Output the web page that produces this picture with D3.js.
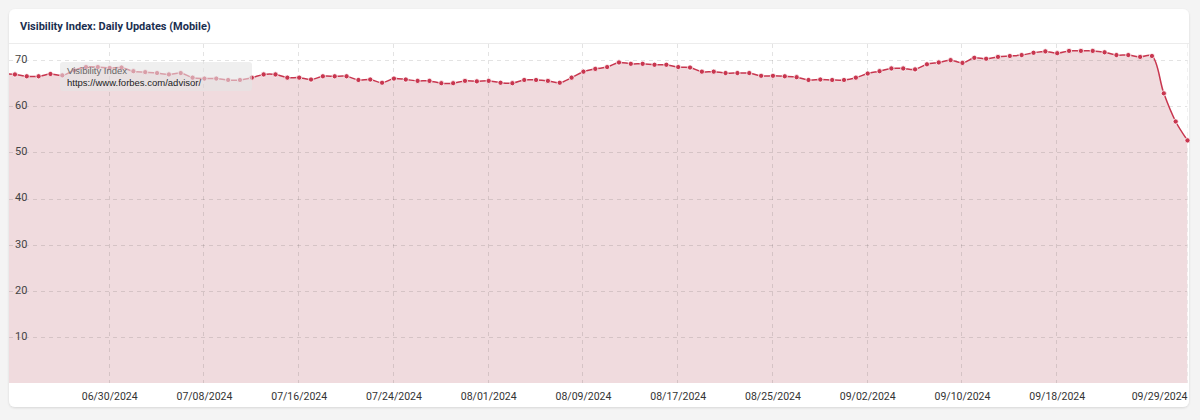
<!DOCTYPE html>
<html lang="en">

<head>
    <meta charset="UTF-8">
    <title>Visibility Index: Daily Updates (Mobile)</title>
    <style>
        * {
            margin: 0;
            padding: 0;
        }

        html,
        body {
            overflow: hidden;
            background-color: #f4f4f4;
        }
    </style>
</head>

<body>
    <div id="chart"></div>
    <script src="https://cdn.jsdelivr.net/npm/d3@7"></script>
    <script>
        // first day of the series (partly hidden behind the left edge)
        const startDate = '06/21/2024'

        // daily visibility index values, 06/21/2024 .. 09/29/2024
        const values = [
            67.1,
            66.9, 66.5, 66.5, 67.0, 66.7, 67.8, 68.5, 68.5, 68.3, 68.4,
            67.6, 67.4, 67.2, 66.9, 67.2, 66.2, 66.0, 66.0, 65.7, 65.7,
            66.2, 66.9, 66.9, 66.2, 66.2, 65.8, 66.5, 66.5, 66.5, 65.7,
            65.8, 65.1, 66.0, 65.8, 65.5, 65.5, 65.0, 65.0, 65.5, 65.4,
            65.5, 65.1, 65.0, 65.7, 65.7, 65.5, 65.1, 66.2, 67.5, 68.1,
            68.5, 69.5, 69.2, 69.2, 69.0, 69.0, 68.5, 68.4, 67.5, 67.5,
            67.2, 67.2, 67.2, 66.6, 66.6, 66.5, 66.3, 65.7, 65.8, 65.7,
            65.7, 66.2, 67.1, 67.6, 68.2, 68.2, 68.0, 69.1, 69.5, 70.0,
            69.4, 70.5, 70.3, 70.7, 70.9, 71.1, 71.6, 71.9, 71.5, 72.0,
            72.0, 72.0, 71.7, 71.1, 71.1, 70.7, 70.9, 62.8, 56.7, 52.6
        ]

        const xTickLabels = ['06/30/2024', '07/08/2024', '07/16/2024', '07/24/2024', '08/01/2024', '08/09/2024',
            '08/17/2024', '08/25/2024', '09/02/2024', '09/10/2024', '09/18/2024', '09/29/2024']
        const yTicks = [10, 20, 30, 40, 50, 60, 70]

        const title = 'Visibility Index: Daily Updates (Mobile)'
        const legendName = 'Visibility Index'
        const legendUrl = 'https://www.forbes.com/advisor/'

        function drawChart() {
            const width = 1200
            const height = 420
            const parse = d3.timeParse('%m/%d/%Y')
            const start = parse(startDate)

            const data = values.map((v, i) => ({ date: d3.timeDay.offset(start, i), value: v }))

            const lineColor = '#c8364f'
            const fillColor = 'rgba(175, 65, 80, 0.19)'
            const gridColor = 'rgba(0, 0, 0, 0.11)'

            const plot = { left: 9, right: 1187.5, top: 44, bottom: 383 }

            const svg = d3.select('#chart')
                .append('svg')
                .attr('width', width)
                .attr('height', height)
                .style('font-family', 'Roboto, sans-serif')

            const defs = svg.append('defs')
            defs.append('filter')
                .attr('id', 'shadow')
                .attr('x', '-5%').attr('y', '-5%')
                .attr('width', '110%').attr('height', '110%')
                .append('feDropShadow')
                .attr('dx', 0).attr('dy', 1)
                .attr('stdDeviation', 1.2)
                .attr('flood-color', '#000')
                .attr('flood-opacity', 0.12)

            defs.append('clipPath')
                .attr('id', 'plot-clip')
                .append('rect')
                .attr('x', plot.left)
                .attr('y', plot.top)
                .attr('width', plot.right - plot.left)
                .attr('height', plot.bottom - plot.top)

            // card
            svg.append('rect')
                .attr('x', 9)
                .attr('y', 9)
                .attr('width', 1180)
                .attr('height', 398)
                .attr('rx', 6)
                .attr('fill', '#fff')
                .attr('filter', 'url(#shadow)')

            svg.append('text')
                .attr('x', 20)
                .attr('y', 30)
                .text(title)
                .attr('fill', '#1b2f50')
                .style('font-size', '11px')
                .style('font-weight', 700)

            svg.append('line')
                .attr('x1', 9)
                .attr('x2', 1189)
                .attr('y1', 43.5)
                .attr('y2', 43.5)
                .attr('stroke', '#ececec')

            const x = d3.scaleTime()
                .domain([d3.timeHour.offset(start, 12), parse(xTickLabels[xTickLabels.length - 1])])
                .range([plot.left, plot.right])

            const y = d3.scaleLinear()
                .domain([0, 73.5])
                .range([plot.bottom, plot.top])

            const chart = svg.append('g')
                .attr('clip-path', 'url(#plot-clip)')

            const area = d3.area()
                .x(d => x(d.date))
                .y0(y(0))
                .y1(d => y(d.value))
                .curve(d3.curveCatmullRom)

            const line = d3.line()
                .x(d => x(d.date))
                .y(d => y(d.value))
                .curve(d3.curveCatmullRom)

            chart.append('path')
                .datum(data)
                .attr('d', area)
                .attr('fill', fillColor)

            // grid
            chart.selectAll('line.hgrid')
                .data(yTicks)
                .join('line')
                .attr('class', 'hgrid')
                .attr('x1', plot.left)
                .attr('x2', plot.right)
                .attr('y1', d => Math.round(y(d)) + 0.5)
                .attr('y2', d => Math.round(y(d)) + 0.5)
                .attr('stroke', gridColor)
                .attr('stroke-dasharray', '4,4')

            chart.selectAll('line.vgrid')
                .data(xTickLabels)
                .join('line')
                .attr('class', 'vgrid')
                .attr('x1', d => Math.round(x(parse(d))) - 0.5)
                .attr('x2', d => Math.round(x(parse(d))) - 0.5)
                .attr('y1', plot.top)
                .attr('y2', plot.bottom)
                .attr('stroke', gridColor)
                .attr('stroke-dasharray', '4,4')

            chart.append('path')
                .datum(data)
                .attr('d', line)
                .attr('fill', 'none')
                .attr('stroke', lineColor)
                .attr('stroke-width', 1.5)

            svg.append('g')
                .selectAll('circle')
                .data(data.filter(d => x(d.date) >= plot.left))
                .join('circle')
                .attr('cx', d => x(d.date))
                .attr('cy', d => y(d.value))
                .attr('r', 2.6)
                .attr('fill', lineColor)
                .attr('stroke', '#fff')
                .attr('stroke-width', 0.8)

            // y labels sit on top of the grid lines
            svg.selectAll('text.ylabel')
                .data(yTicks)
                .join('text')
                .attr('class', 'ylabel')
                .attr('x', 15)
                .attr('y', d => y(d))
                .text(d => d)
                .attr('fill', '#444')
                .style('font-size', '11px')
                .style('dominant-baseline', 'middle')

            // x labels
            svg.selectAll('text.xlabel')
                .data(xTickLabels)
                .join('text')
                .attr('class', 'xlabel')
                .attr('x', d => x(parse(d)))
                .attr('y', 397)
                .text(d => d)
                .attr('fill', '#333')
                .style('font-size', '10.5px')
                .style('dominant-baseline', 'middle')
                .style('text-anchor', (d, i) => i === xTickLabels.length - 1 ? 'end' : 'middle')

            // legend box over the start of the line
            const legend = svg.append('g')
                .attr('transform', 'translate(60, 62)')

            legend.append('rect')
                .attr('width', 192)
                .attr('height', 29)
                .attr('rx', 3)
                .attr('fill', 'rgba(228, 228, 228, 0.6)')

            legend.append('text')
                .attr('x', 7)
                .attr('y', 9)
                .text(legendName)
                .attr('fill', '#666')
                .style('font-family', '"Liberation Sans", Arial, sans-serif')
                .style('font-size', '9.5px')
                .style('dominant-baseline', 'middle')

            legend.append('text')
                .attr('x', 7)
                .attr('y', 21)
                .text(legendUrl)
                .attr('fill', '#222')
                .style('font-family', '"Liberation Sans", Arial, sans-serif')
                .style('font-size', '9.5px')
                .style('dominant-baseline', 'middle')
        }

        drawChart()
    </script>
</body>

</html>
